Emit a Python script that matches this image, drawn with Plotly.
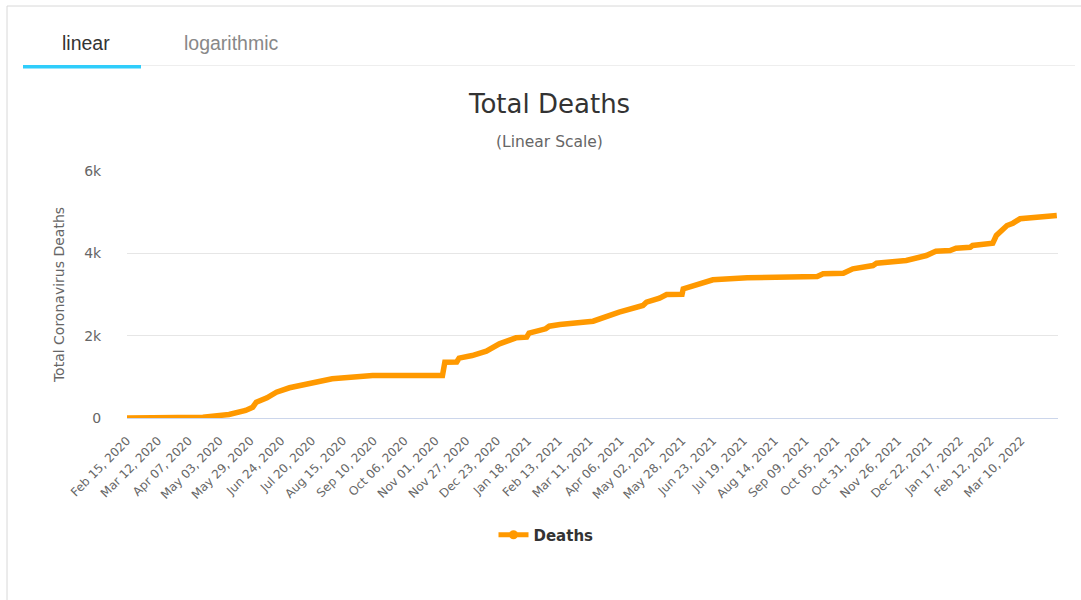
import plotly.graph_objects as go
from datetime import date, timedelta

# ---- data ----
dates = [
    "2020-02-15", "2020-04-19", "2020-05-11", "2020-05-25", "2020-05-31", "2020-06-03",
    "2020-06-12", "2020-06-20", "2020-07-01", "2020-07-12", "2020-07-26", "2020-08-06",
    "2020-08-23", "2020-09-09", "2020-11-07", "2020-11-09", "2020-11-19", "2020-11-21",
    "2020-12-02", "2020-12-14", "2020-12-25", "2021-01-08", "2021-01-17", "2021-01-19",
    "2021-02-02", "2021-02-05", "2021-02-14", "2021-03-03", "2021-03-14", "2021-04-05",
    "2021-04-25", "2021-04-28", "2021-05-09", "2021-05-15", "2021-05-28", "2021-05-29",
    "2021-06-12", "2021-06-23", "2021-07-22", "2021-09-19", "2021-09-24", "2021-10-11",
    "2021-10-19", "2021-11-05", "2021-11-08", "2021-12-03", "2021-12-20", "2021-12-28",
    "2022-01-09", "2022-01-14", "2022-01-26", "2022-01-28", "2022-02-14", "2022-02-17",
    "2022-02-26", "2022-03-03", "2022-03-09", "2022-03-20", "2022-03-28", "2022-04-09",
]
deaths = [
    0, 20, 85, 182, 262, 384,
    491, 627, 734, 814, 887, 952,
    1008, 1032, 1035, 1355, 1360, 1453,
    1518, 1623, 1802, 1948, 1963, 2060,
    2167, 2230, 2271, 2312, 2351, 2570,
    2733, 2813, 2910, 3000, 3005, 3138,
    3260, 3357, 3405, 3437, 3503, 3517,
    3624, 3704, 3760, 3826, 3947, 4052,
    4069, 4125, 4149, 4190, 4246, 4433,
    4676, 4732, 4839, 4878, 4880, 4919,
]
series_name = "Deaths"
title_text = "Total Deaths"
subtitle_text = "(Linear Scale)"
y_title = "Total Coronavirus Deaths"
y_ticks = [0, 2000, 4000, 6000]
y_ticklabels = ["0", "2k", "4k", "6k"]
tab_labels = ["linear", "logarithmic"]

start = date(2020, 2, 15)
x_ticks = [(start + timedelta(days=26 * k)).isoformat() for k in range(30)]
x_ticklabels = [(start + timedelta(days=26 * k)).strftime("%b %d, %Y") for k in range(30)]

# ---- geometry helpers (pixel -> paper) ----
W, H = 1081, 600
L, R, T, B = 127, 1058, 171, 418
def px(x):
    return (x - L) / (R - L)
def py(y):
    return (B - y) / (B - T)

ORANGE = "#ff9900"
FONT = "DejaVu Sans"

fig = go.Figure()
fig.add_trace(go.Scatter(
    x=dates, y=deaths, mode="lines", name=series_name, showlegend=False,
    line=dict(color=ORANGE, width=5.5),
))
fig.add_trace(go.Scatter(
    x=[None], y=[None], mode="lines+markers", name=series_name,
    line=dict(color=ORANGE, width=5), marker=dict(color=ORANGE, size=9, symbol="circle"),
))

shapes = [
    # outer frame
    dict(type="line", xref="paper", yref="paper", x0=px(7), x1=px(7), y0=py(6), y1=py(600),
         line=dict(color="#d8d8d8", width=1)),
    dict(type="line", xref="paper", yref="paper", x0=px(7), x1=px(1081), y0=py(6), y1=py(6),
         line=dict(color="#d8d8d8", width=1)),
    # tab bar separator
    dict(type="line", xref="paper", yref="paper", x0=px(141), x1=px(1075), y0=py(65.5), y1=py(65.5),
         line=dict(color="#eeeeee", width=1)),
    # active tab underline
    dict(type="rect", xref="paper", yref="paper", x0=px(23), x1=px(141), y0=py(65), y1=py(68.5),
         fillcolor="#2fcdfb", line=dict(width=0)),
]

annotations = [
    dict(text=tab_labels[0], xref="paper", yref="paper", x=px(86), y=py(43), showarrow=False,
         xanchor="center", yanchor="middle", font=dict(family="Liberation Sans", size=19.5, color="#333333")),
    dict(text=tab_labels[1], xref="paper", yref="paper", x=px(231), y=py(43), showarrow=False,
         xanchor="center", yanchor="middle", font=dict(family="Liberation Sans", size=19.5, color="#888888")),
    dict(text=title_text, xref="paper", yref="paper", x=px(549), y=py(104), showarrow=False,
         xanchor="center", yanchor="middle", font=dict(family=FONT, size=26, color="#333333")),
    dict(text=subtitle_text, xref="paper", yref="paper", x=px(549), y=py(142), showarrow=False,
         xanchor="center", yanchor="middle", font=dict(family=FONT, size=15.5, color="#666666")),
]

fig.update_layout(
    width=W, height=H,
    margin=dict(l=L, r=W - R, t=T, b=H - B, pad=0),
    paper_bgcolor="white", plot_bgcolor="white",
    shapes=shapes, annotations=annotations,
    showlegend=True,
    legend=dict(orientation="h", x=px(546), y=py(535), xanchor="center", yanchor="middle",
                font=dict(family=FONT, size=15, color="#333333", weight="bold"),
                itemwidth=30, bgcolor="rgba(0,0,0,0)"),
    font=dict(family=FONT, color="#666666"),
)
fig.update_xaxes(
    type="date", range=["2020-02-15", "2022-04-10"],
    tickvals=x_ticks, ticktext=x_ticklabels, tickangle=-45,
    tickfont=dict(family=FONT, size=12, color="#666666"),
    showgrid=False, showline=True, linecolor="#ccd6eb", linewidth=1,
    ticks="outside", ticklen=10, tickcolor="rgba(0,0,0,0)", zeroline=False,
)
fig.update_yaxes(
    range=[0, 6000], tickvals=y_ticks, ticktext=y_ticklabels,
    tickfont=dict(family=FONT, size=14, color="#666666"),
    showgrid=True, gridcolor="#e6e6e6", gridwidth=1, zeroline=False,
    showline=False, ticks="outside", ticklen=22, tickcolor="rgba(0,0,0,0)",
    title=dict(text=y_title, font=dict(family=FONT, size=14, color="#666666"), standoff=16),
)

fig.write_html("out.html", config={"displayModeBar": False},
               post_script="document.body.style.margin='0px';")
